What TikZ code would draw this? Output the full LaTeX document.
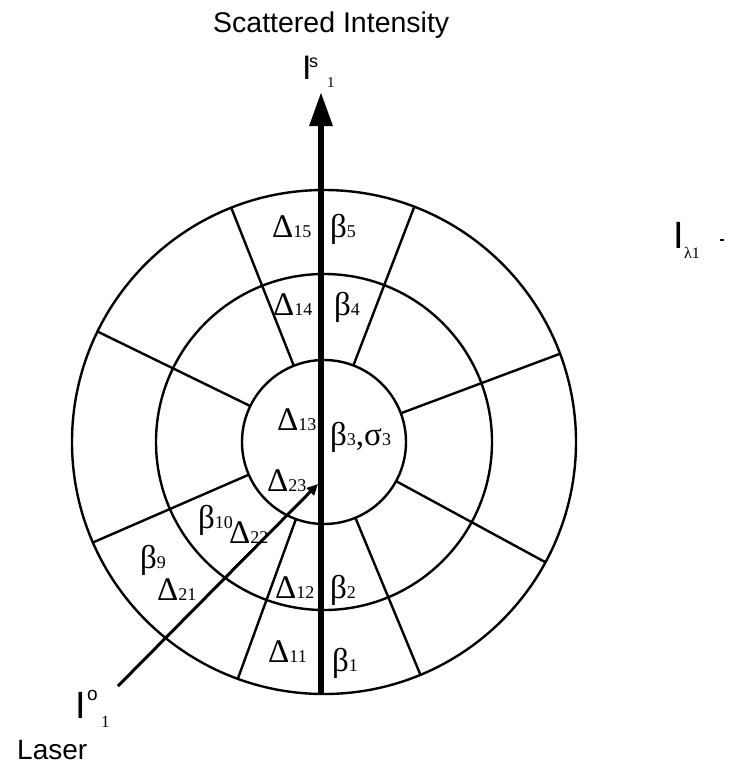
\documentclass[tikz,border=0pt]{standalone}
\usepackage{fontspec}
\setmainfont{Liberation Serif}
\newfontfamily\sansf{Liberation Sans}
\usetikzlibrary{arrows.meta,calc}
\newcommand\glab[2]{{\fontsize{33}{33}\selectfont #1}{\fontsize{18}{18}\selectfont #2}}
\begin{document}
\begin{tikzpicture}[x=1pt,y=-1pt,
  ring/.style={line width=2.4pt},
  lbl/.style={anchor=base west,inner sep=0pt},
  beam/.style={line width=6pt,-{Triangle[length=34pt,width=22pt]}},
  laserbeam/.style={line width=3pt,-{Triangle[length=11pt,width=10pt]}}]
\useasboundingbox[fill=white] (0,0) rectangle (731,763);
\coordinate (C) at (324,442);
% rings
\draw[ring] (C) circle[radius=82pt];
\draw[ring] (C) circle[radius=168pt];
\draw[ring] (C) circle[radius=252pt];
% radial separators
\foreach \a in {111.6,69,20.5,154,-28.5,203.5,250,292.5}
  \draw[ring] ($(C)+(\a:82pt)$) -- ($(C)+(\a:252pt)$);
% beams
\coordinate (beamstart) at (321,695);
\coordinate (beamend) at (321,92);
\draw[beam] (beamstart) -- (beamend);
\coordinate (laserstart) at (118,686);
\coordinate (laserend) at (318,484);
\draw[laserbeam] (laserstart) -- (laserend);
% titles
\node[lbl] (title) at (213,32) {\sansf\fontsize{28.5}{28.5}\selectfont Scattered Intensity};
\node[lbl] (laser) at (17,759) {\sansf\fontsize{28}{28}\selectfont Laser};
% I^s_1
\node[lbl] (IsI) at (302,79) {\sansf\fontsize{34}{34}\selectfont I};
\node[lbl] (Iss) at (309,67) {\sansf\fontsize{18}{18}\selectfont s};
\node[lbl] (Is1) at (327,87) {\fontsize{15}{15}\selectfont 1};
% I^o_1
\node[lbl] (IoI) at (75,718) {\sansf\fontsize{38}{38}\selectfont I};
\node[lbl] (Ioo) at (87,700) {\sansf\fontsize{19}{19}\selectfont o};
\node[lbl] (Io1) at (101,727) {\fontsize{17}{17}\selectfont 1};
% I_lambda1
\node[lbl] (IlI) at (673,248) {\sansf\fontsize{38}{38}\selectfont I};
\node[lbl] (Ill) at (684,258) {\fontsize{16}{16}\selectfont λ1};
\coordinate (mk1) at (720,240);
\coordinate (mk2) at (724,240);
\draw[line width=1.5pt] (mk1) -- (mk2);
% segment labels
\node[lbl] (d15) at (272,237) {\glab{Δ}{15}};
\node[lbl] (b5)  at (330,237) {\glab{β}{5}};
\node[lbl] (d14) at (273,315) {\glab{Δ}{14}};
\node[lbl] (b4)  at (334,315) {\glab{β}{4}};
\node[lbl] (d13) at (277,430) {\glab{Δ}{13}};
\node[lbl] (b3)  at (330,445) {\glab{β}{3}{\fontsize{33}{33}\selectfont,σ}{\fontsize{18}{18}\selectfont 3}};
\node[lbl] (d23) at (267,491) {\glab{Δ}{23}};
\node[lbl] (b10) at (198,528) {\glab{β}{10}};
\node[lbl] (d22) at (229,543) {\glab{Δ}{22}};
\node[lbl] (b9)  at (140,568) {\glab{β}{9}};
\node[lbl] (d21) at (157,600) {\glab{Δ}{21}};
\node[lbl] (d12) at (275,598) {\glab{Δ}{12}};
\node[lbl] (b2)  at (330,598) {\glab{β}{2}};
\node[lbl] (d11) at (268,662) {\glab{Δ}{11}};
\node[lbl] (b1)  at (332,671) {\glab{β}{1}};
\end{tikzpicture}
\end{document}
